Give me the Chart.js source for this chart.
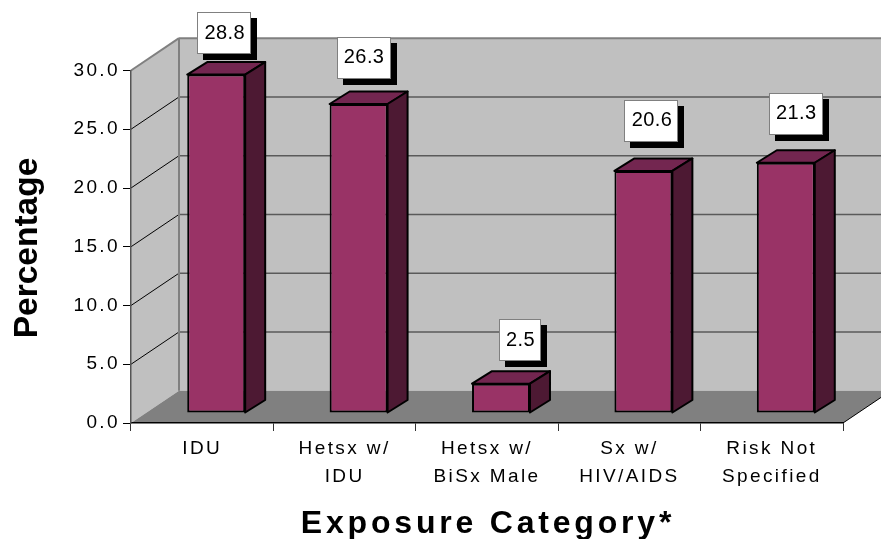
<!DOCTYPE html>
<html>
<head>
<meta charset="utf-8">
<style>
  html, body { margin: 0; padding: 0; background: #fff; }
  canvas { display: block; }
</style>
<script src="https://cdn.jsdelivr.net/npm/chart.js@4/dist/chart.umd.min.js"></script>
</head>
<body>
<canvas id="chart" width="881" height="539"></canvas>
<script>
const categories = [
  'IDU',
  ['Hetsx w/', 'IDU'],
  ['Hetsx w/', 'BiSx Male'],
  ['Sx w/', 'HIV/AIDS'],
  ['Risk Not', 'Specified']
];
const percentages = [28.8, 26.3, 2.5, 20.6, 21.3];
const yAxisTitle = 'Percentage';
const xAxisTitle = 'Exposure Category*';

const FONT = '"Liberation Sans", Arial, sans-serif';

// how far the back wall sits behind the front of the plot
const WALL = { dx: 48, dy: -32.3 };
// bars stand part way into the floor, and have their own depth
const BAR_SHIFT = { dx: 14, dy: -10 };
const BAR_DEPTH = { dx: 20, dy: -12.5 };
// callouts were placed by hand in the original, offset from each bar's top
const calloutOffsets = [[8, -41.6], [5, -46], [19, -43.6], [8, -50], [10, -49]];

function poly(ctx, pts, fill, stroke, lineWidth) {
  ctx.beginPath();
  pts.forEach((p, i) => i ? ctx.lineTo(p[0], p[1]) : ctx.moveTo(p[0], p[1]));
  ctx.closePath();
  if (fill) { ctx.fillStyle = fill; ctx.fill(); }
  if (stroke) { ctx.strokeStyle = stroke; ctx.lineWidth = lineWidth; ctx.stroke(); }
}

function line(ctx, x1, y1, x2, y2, color, width) {
  ctx.beginPath();
  ctx.moveTo(x1, y1);
  ctx.lineTo(x2, y2);
  ctx.strokeStyle = color;
  ctx.lineWidth = width;
  ctx.stroke();
}

const walls = {
  id: 'walls',
  beforeDraw(chart) {
    const { ctx, chartArea: a, scales: { y } } = chart;
    const bx = a.left + WALL.dx, by = WALL.dy;
    ctx.save();
    ctx.lineJoin = 'round';
    // back and left walls
    poly(ctx, [[bx, a.top + by], [a.right + WALL.dx, a.top + by], [a.right + WALL.dx, a.bottom + by], [bx, a.bottom + by]], '#c0c0c0');
    poly(ctx, [[a.left, a.top], [bx, a.top + by], [bx, a.bottom + by], [a.left, a.bottom]], '#c0c0c0');
    // grid lines run along the left wall, then across the back
    y.ticks.forEach(t => {
      const py = y.getPixelForValue(t.value);
      if (t.value > 0 && t.value < 30) {
        line(ctx, a.left, py, bx, py + by, '#000', 1);
        line(ctx, bx, py + by, a.right + WALL.dx, py + by, '#5a5a5a', 1.5);
      }
    });
    // floor
    poly(ctx, [[a.left, a.bottom], [bx, a.bottom + by], [a.right + WALL.dx, a.bottom + by], [a.right, a.bottom]], '#808080');
    line(ctx, a.right, a.bottom, a.right + WALL.dx, a.bottom + by, '#000', 1);
    // wall edges
    line(ctx, a.left, a.top, bx, a.top + by, '#808080', 2);
    line(ctx, bx, a.top + by, a.right + WALL.dx, a.top + by, '#808080', 2);
    line(ctx, bx, a.top + by, bx, a.bottom + by, '#808080', 2);
    ctx.restore();
    // ticks and axis text all have the wide spacing of the original
    ctx.letterSpacing = '2.4px';
  }
};

const bars3d = {
  id: 'bars3d',
  beforeDatasetsDraw(chart) {
    chart.ctx.save();
    chart.ctx.translate(BAR_SHIFT.dx, BAR_SHIFT.dy);
  },
  afterDatasetsDraw(chart) {
    const { ctx } = chart;
    const { dx, dy } = BAR_DEPTH;
    ctx.lineJoin = 'round';
    chart.getDatasetMeta(0).data.forEach(bar => {
      const l = bar.x - bar.width / 2, r = bar.x + bar.width / 2;
      poly(ctx, [[l, bar.y], [l + dx, bar.y + dy], [r + dx, bar.y + dy], [r, bar.y]], '#732650', '#000', 2);
      poly(ctx, [[r, bar.y], [r + dx, bar.y + dy], [r + dx, bar.base + dy], [r, bar.base]], '#4d1933', '#000', 2);
    });
    ctx.restore();

    // value callouts
    ctx.save();
    ctx.letterSpacing = '0.4px';
    ctx.font = '20px ' + FONT;
    ctx.textAlign = 'center';
    ctx.textBaseline = 'middle';
    chart.getDatasetMeta(0).data.forEach((bar, i) => {
      const text = percentages[i].toFixed(1);
      const w = text.length > 3 ? 54 : 42, h = 42;
      const cx = bar.x + BAR_SHIFT.dx + calloutOffsets[i][0];
      const cy = bar.y + BAR_SHIFT.dy + calloutOffsets[i][1];
      const x = Math.round(cx - w / 2), y = Math.round(cy - h / 2);
      ctx.fillStyle = '#000';
      ctx.fillRect(x + 6, y + 6, w, h);
      ctx.fillStyle = '#fff';
      ctx.fillRect(x, y, w, h);
      ctx.strokeStyle = '#808080';
      ctx.lineWidth = 1;
      ctx.strokeRect(x + 0.5, y + 0.5, w - 1, h - 1);
      ctx.fillStyle = '#000';
      ctx.fillText(text, cx + 0.5, cy);
    });
    ctx.restore();
  }
};

const axisTitles = {
  id: 'axisTitles',
  afterDraw(chart) {
    const { ctx } = chart;
    ctx.save();
    ctx.fillStyle = '#000';
    ctx.textAlign = 'center';
    ctx.textBaseline = 'middle';
    ctx.letterSpacing = '3.8px';
    ctx.font = 'bold 32px ' + FONT;
    ctx.fillText(xAxisTitle, 488, 524);
    ctx.letterSpacing = '0px';
    ctx.font = 'bold 33.5px ' + FONT;
    ctx.translate(28, 248);
    ctx.rotate(-Math.PI / 2);
    ctx.fillText(yAxisTitle, 0, 0);
    ctx.restore();
  }
};

new Chart(document.getElementById('chart'), {
  type: 'bar',
  data: {
    labels: categories,
    datasets: [{
      data: percentages,
      backgroundColor: '#993366',
      borderColor: '#000',
      borderWidth: 2,
      borderSkipped: false,
      categoryPercentage: 0.407,
      barPercentage: 1,
      clip: false
    }]
  },
  plugins: [walls, bars3d, axisTitles],
  options: {
    responsive: false,
    animation: false,
    layout: { padding: { top: 70.5, right: 38 } },
    plugins: { legend: { display: false }, tooltip: { enabled: false } },
    scales: {
      x: {
        afterFit(scale) { scale.height = 116; },
        grid: { drawOnChartArea: false, tickLength: 8, color: '#333' },
        border: { color: '#000', width: 1.5 },
        ticks: {
          color: '#000',
          maxRotation: 0,
          autoSkip: false,
          padding: 4,
          font: { family: FONT, size: 19, lineHeight: 1.47 }
        }
      },
      y: {
        min: 0,
        max: 30,
        afterFit(scale) { scale.width = 131; },
        grid: { drawOnChartArea: false, tickLength: 8, color: '#000' },
        border: { color: '#555', width: 1.5 },
        ticks: {
          stepSize: 5,
          color: '#000',
          padding: 3,
          font: { family: FONT, size: 19 },
          callback: v => v.toFixed(1)
        }
      }
    }
  }
});
</script>
</body>
</html>
